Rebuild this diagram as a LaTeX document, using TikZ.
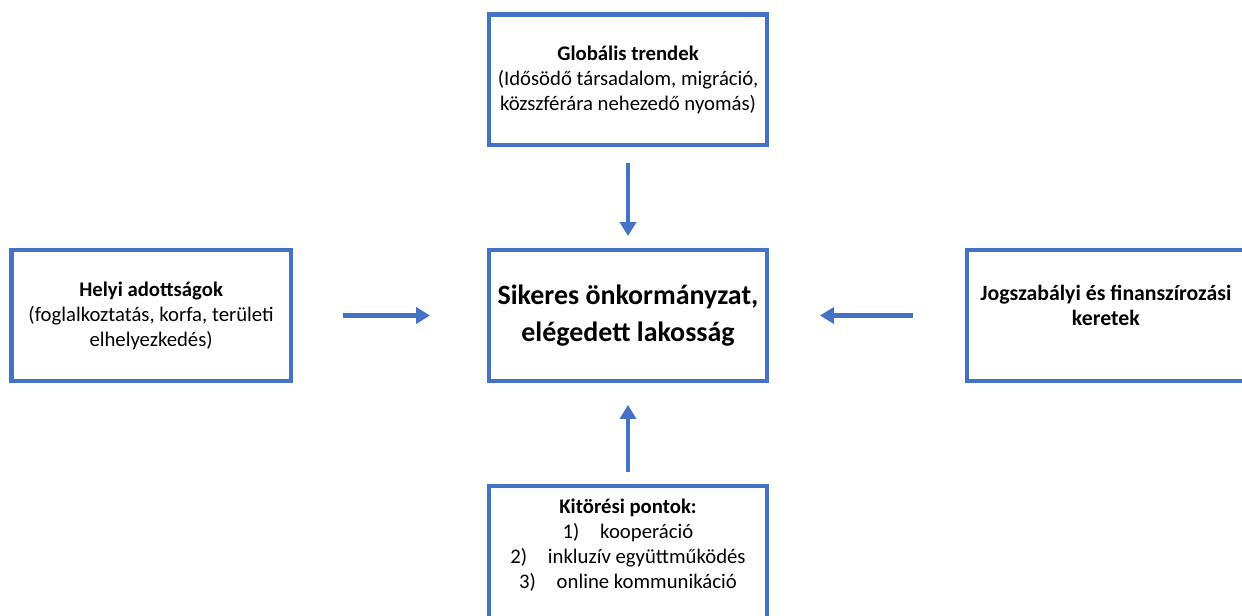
\documentclass[tikz,border=0pt]{standalone}
\usepackage{fontspec}
\setmainfont{Carlito}
\usetikzlibrary{positioning,arrows.meta}
\definecolor{boxblue}{HTML}{4472C4}

\begin{document}
\begin{tikzpicture}[
		>={Triangle[length=0.28cm,width=0.32cm]},
		node distance=2.02cm,
		every node/.style={
			font=\fontsize{11.8}{14.2}\selectfont,
			align=center
		},
		factorbox/.style={
			draw=boxblue,
			line width=2.5pt,
			minimum width=5.55cm,
			minimum height=2.61cm
		},
		flow/.style={->, draw=boxblue, line width=2.3pt}
		]
		
		\useasboundingbox (0,0) rectangle (24.84,-12.32);
		\clip (0,0) rectangle (24.84,-12.32);
		
		%--------------------------------------------------
		% Boxes
		%--------------------------------------------------
		
		\node[factorbox, font=\fontsize{15.9}{21.5}\selectfont\bfseries] (goal) at (12.56,-6.31)
		{Sikeres önkormányzat,\\elégedett lakosság};
		
		\node[factorbox] (trends) [above=of goal]
		{\textbf{Globális trendek}\\(Idősödő társadalom, migráció,\\közszférára nehezedő nyomás)};
		
		\node[factorbox, minimum width=5.59cm] (local) [left=3.88cm of goal]
		{\textbf{Helyi adottságok}\\(foglalkoztatás, korfa, területi\\elhelyezkedés)};
		
		\node[factorbox, font=\fontsize{12.4}{14.6}\selectfont\bfseries] (legal) [right=3.92cm of goal]
		{Jogszabályi és finanszírozási\\keretek\rule[-0.4cm]{0pt}{0pt}};
		
		\node[factorbox, inner ysep=0.25cm] (breakout) [below=of goal]
		{\textbf{Kitörési pontok:}\\1)\quad kooperáció\\2)\quad inkluzív együttműködés\\3)\quad online kommunikáció\rule[-1cm]{0pt}{0pt}};
		
		%--------------------------------------------------
		% Arrows
		%--------------------------------------------------
		
		\draw[flow, shorten <=0.32cm, shorten >=0.24cm] (trends) -- (goal);
		\draw[flow, shorten <=1.0cm, shorten >=1.14cm] (local) -- (goal);
		\draw[flow, shorten <=1.04cm, shorten >=1.02cm] (legal) -- (goal);
		\draw[flow, shorten <=0.24cm, shorten >=0.44cm] (breakout) -- (goal);
		
	\end{tikzpicture}
\end{document}
